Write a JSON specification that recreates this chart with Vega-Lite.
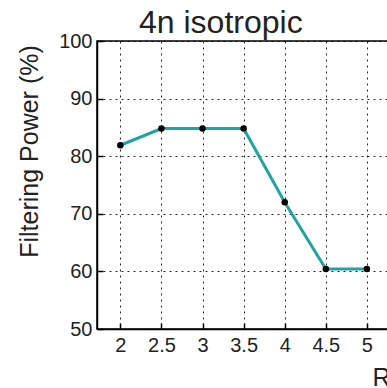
{
  "$schema": "https://vega.github.io/schema/vega-lite/v6.json",
  "width": 311,
  "height": 288,
  "autosize": {"type": "none"},
  "padding": {"left": 97, "top": 41, "right": 0, "bottom": 59},
  "background": "white",
  "title": {
    "text": "4n isotropic",
    "anchor": "start",
    "dx": 122,
    "offset": -9,
    "fontSize": 32,
    "font": "Liberation Sans",
    "fontWeight": "normal",
    "color": "#222222"
  },
  "config": {
    "view": {"stroke": "black", "strokeWidth": 1.5},
    "axis": {
      "domainColor": "black",
      "domainWidth": 1.5,
      "tickColor": "black",
      "tickWidth": 1.5,
      "tickSize": -6,
      "labelFont": "Liberation Sans",
      "labelFontSize": 20,
      "labelColor": "#222222",
      "titleFont": "Liberation Sans",
      "titleFontSize": 25,
      "titleFontWeight": "normal",
      "titleColor": "#222222",
      "grid": true,
      "gridColor": "black",
      "gridOpacity": 0.85,
      "gridWidth": 1,
      "gridDash": [2, 4]
    }
  },
  "data": {
    "values": [
      {"R": 2, "FP": 81.9},
      {"R": 2.5, "FP": 84.8},
      {"R": 3, "FP": 84.8},
      {"R": 3.5, "FP": 84.8},
      {"R": 4, "FP": 72.0},
      {"R": 4.5, "FP": 60.4},
      {"R": 5, "FP": 60.4}
    ]
  },
  "encoding": {
    "x": {
      "field": "R",
      "type": "quantitative",
      "scale": {"domain": [1.716, 5.5], "nice": false, "zero": false},
      "axis": {
        "values": [2, 2.5, 3, 3.5, 4, 4.5, 5],
        "format": "~g",
        "labelPadding": 12,
        "title": "R",
        "titleX": 275,
        "titleY": 56,
        "titleAlign": "left",
        "titleBaseline": "alphabetic",
        "titleAngle": 0
      }
    },
    "y": {
      "field": "FP",
      "type": "quantitative",
      "scale": {"domain": [50, 100], "nice": false, "zero": false},
      "axis": {
        "values": [50, 60, 70, 80, 90, 100],
        "labelPadding": 11,
        "title": "Filtering Power (%)",
        "titleX": -60,
        "titleY": 110,
        "titleAngle": -90,
        "titleAlign": "center",
        "titleBaseline": "alphabetic"
      }
    }
  },
  "layer": [
    {"mark": {"type": "line", "color": "#22a3a3", "strokeWidth": 3}},
    {"mark": {"type": "point", "filled": true, "color": "black", "size": 42, "opacity": 1}}
  ]
}
